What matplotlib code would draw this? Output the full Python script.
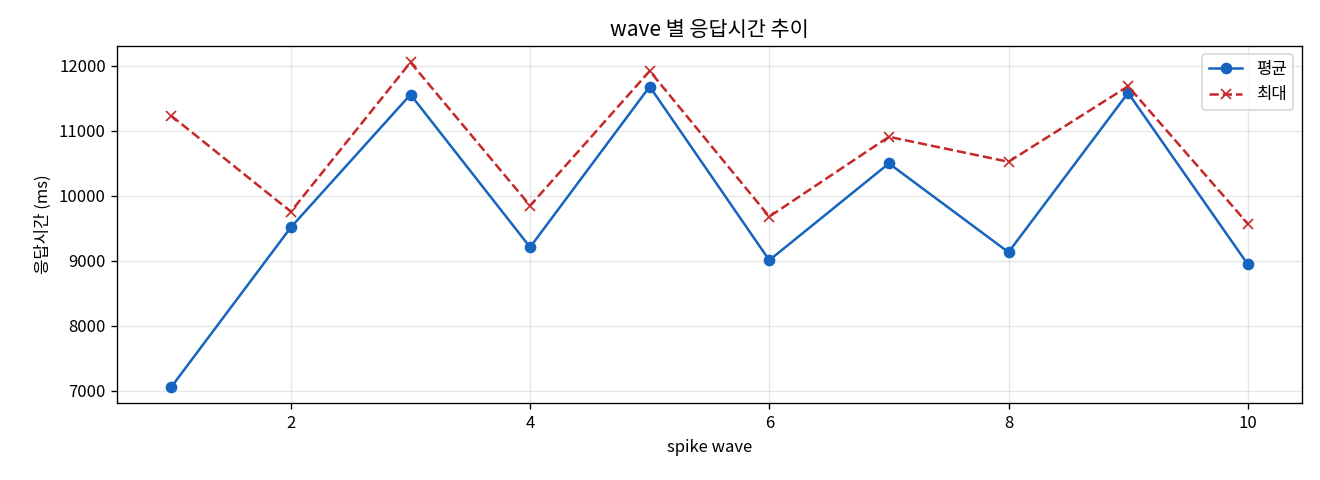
import matplotlib.pyplot as plt

plt.rcParams['font.family'] = ['Noto Sans CJK KR', 'DejaVu Sans']

waves = [1, 2, 3, 4, 5, 6, 7, 8, 9, 10]
avg_ms = [7061, 9515, 11555, 9209, 11678, 9009, 10497, 9132, 11581, 8948]
max_ms = [11228, 9756, 12051, 9848, 11918, 9679, 10906, 10522, 11683, 9572]

fig, ax = plt.subplots(figsize=(11, 4), dpi=120)

ax.plot(waves, avg_ms, marker='o', color='#1565C0', linewidth=1.5, markersize=6, label='평균')
ax.plot(waves, max_ms, marker='x', linestyle='--', color='#C62828', linewidth=1.5, markersize=6, label='최대')

ax.set_title('wave 별 응답시간 추이', fontsize=12.5)
ax.set_xlabel('spike wave', fontsize=10)
ax.set_ylabel('응답시간 (ms)', fontsize=10)
ax.grid(True, alpha=0.3)
ax.legend(loc='upper right', fontsize=10)

plt.subplots_adjust(left=0.089, right=0.986, top=0.904, bottom=0.16)
plt.savefig('out.png', dpi=120)
plt.close()
